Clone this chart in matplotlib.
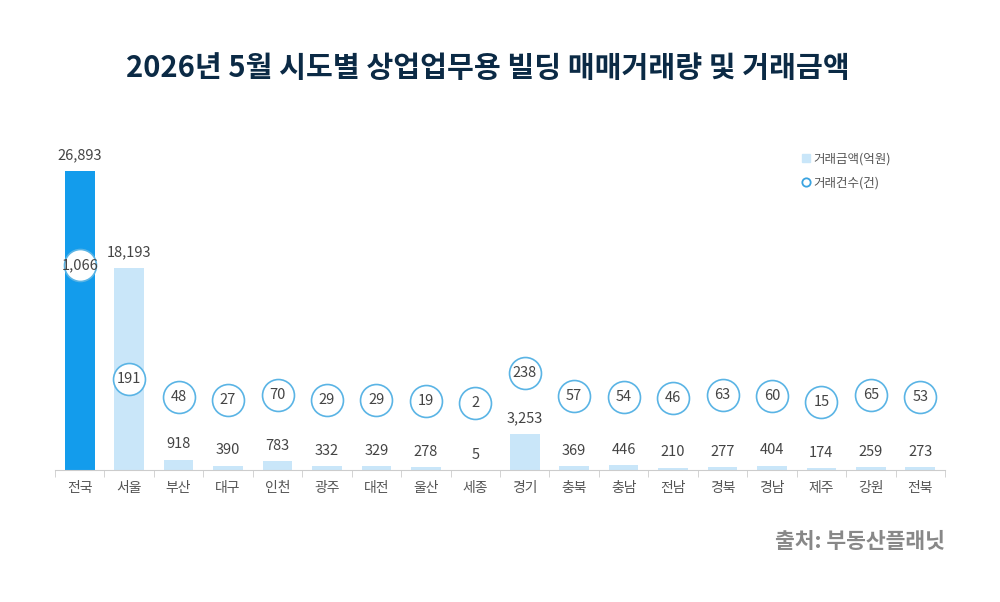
import matplotlib
matplotlib.use("Agg")
import matplotlib.pyplot as plt
from matplotlib.lines import Line2D
import numpy as np

plt.rcParams['font.family'] = ['Noto Sans CJK KR', 'DejaVu Sans']

# 데이터 (2026년 5월, 시도별)
regions = ["전국", "서울", "부산", "대구", "인천", "광주", "대전", "울산", "세종",
           "경기", "충북", "충남", "전남", "경북", "경남", "제주", "강원", "전북"]
amount = [26893, 18193, 918, 390, 783, 332, 329, 278, 5,
          3253, 369, 446, 210, 277, 404, 174, 259, 273]   # 거래금액(억원)
count = [1066, 191, 48, 27, 70, 29, 29, 19, 2,
         238, 57, 54, 46, 63, 60, 15, 65, 53]              # 거래건수(건)

W, H = 1000, 602
fig = plt.figure(figsize=(W / 100, H / 100), dpi=100)
ax = fig.add_axes([55 / W, (H - 470) / H, 890 / W, 333.6 / H])
ax2 = ax.twinx()

x = np.arange(len(regions))
colors = ["#139cec" if r == "전국" else "#c9e6f9" for r in regions]
ax.bar(x, amount, width=0.6, color=colors, zorder=1)
for xi, v in zip(x, amount):
    ax.annotate(f"{v:,}", (xi, v), xytext=(0, 6), textcoords="offset points",
                ha="center", va="bottom", fontsize=10.5, color="#444444")

ax.set_xlim(-0.5, len(regions) - 0.5)
ax.set_ylim(0, 30000)
ax.set_yticks([])
for s in ["top", "right", "left"]:
    ax.spines[s].set_visible(False)
ax.spines["bottom"].set_color("#cccccc")
ax.set_xticks(x)
ax.set_xticklabels(regions, fontsize=10, color="#555555")
ax.tick_params(axis="x", length=0, pad=8)
# 구분 눈금 (카테고리 경계)
ax.set_xticks(np.arange(-0.5, len(regions)), minor=True)
ax.tick_params(axis="x", which="minor", length=5, color="#cccccc")

ax2.set_ylim(-511, 2058)
ax2.axis("off")
ax2.plot(x, count, linestyle="none", marker="o", markersize=23,
         markerfacecolor="white", markeredgecolor="#5ab4e5", markeredgewidth=1.2, zorder=3)
for xi, c in zip(x, count):
    ax2.text(xi, c, f"{c:,}", ha="center", va="center", fontsize=10.5,
             color="#444444", zorder=4)

fig.text(0.488, (H - 68) / H, "2026년 5월 시도별 상업업무용 빌딩 매매거래량 및 거래금액",
         ha="center", va="center", fontsize=21, fontweight="bold", color="#0b2a45")

handles = [
    Line2D([], [], linestyle="none", marker="s", markersize=6,
           markerfacecolor="#c9e6f9", markeredgecolor="#c9e6f9", label="거래금액(억원)"),
    Line2D([], [], linestyle="none", marker="o", markersize=6,
           markerfacecolor="white", markeredgecolor="#3aa3e0", markeredgewidth=1.3,
           label="거래건수(건)"),
]
fig.legend(handles=handles, loc="upper left", bbox_to_anchor=(788 / W, (H - 141) / H),
           frameon=False, fontsize=9, handletextpad=0.1, handlelength=1.0,
           labelspacing=0.9, labelcolor="#555555")

fig.text(945 / W, (H - 541) / H, "출처: 부동산플래닛", ha="right", va="center",
         fontsize=15.5, fontweight="bold", color="#888888")

fig.savefig("out.png", dpi=100, facecolor="white")
